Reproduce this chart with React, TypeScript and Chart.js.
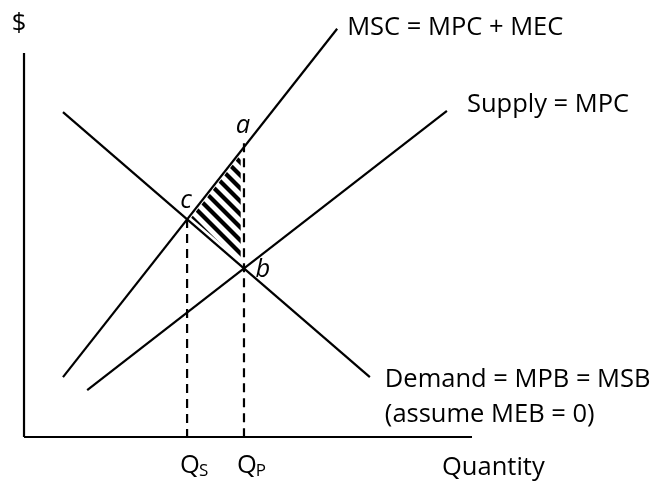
import React, { useEffect, useRef } from "react";
import { Chart, registerables } from "chart.js";

Chart.register(...registerables);

// ---- data (economic units) ----
const axisLabels = ["$", "Quantity"];
const axisXEnd = 10;
const axisYEnd = 10;

const curveLabels = ["MSC = MPC + MEC", "Supply = MPC", "Demand = MPB = MSB", "(assume MEB = 0)"];
const mscX = [0.87, 6.99];
const mscY = [1.56, 10.63];
const supplyX = [1.41, 9.44];
const supplyY = [1.22, 8.49];
const demandX = [0.87, 7.72];
const demandY = [8.46, 1.56];

const qNames = ["S", "P"]; // subscripts of Q
const qValues = [3.64, 4.91];
const qDashTops = [5.68, 7.65];

const pointNames = ["a", "b", "c"];
const pointX = [4.91, 4.91, 3.64];
const pointY = [7.55, 4.39, 5.68];

// hatched deadweight-loss area (upper and lower edges)
const hatchTopX = [3.73, 4.84];
const hatchTopY = [5.71, 7.36];
const hatchBottomX = [3.73, 4.84];
const hatchBottomY = [5.71, 4.59];

// visible range of the plane
const X_MIN = -0.536;
const X_MAX = 14.04;
const Y_MIN = -1.198;
const Y_MAX = 11.38;

const pts = (xs: number[], ys: number[]) => xs.map((v, i) => ({ x: v, y: ys[i] }));

function makePattern(): CanvasPattern | string {
  const s = 13;
  const c = document.createElement("canvas");
  c.width = s;
  c.height = s;
  const g = c.getContext("2d");
  if (!g) return "#000";
  g.strokeStyle = "#000";
  g.lineWidth = 4.2;
  for (let k = -1; k <= 1; k++) {
    g.beginPath();
    g.moveTo(-2, k * s - 2);
    g.lineTo(s + 2, s + k * s + 2);
    g.stroke();
  }
  const p = g.createPattern(c, "repeat");
  return p || "#000";
}

const FONT = '"Open Sans", "Noto Sans", sans-serif';
const SIZE = 25.5;

const labelPlugin = {
  id: "econLabels",
  afterDatasetsDraw(chart: any) {
    const { ctx } = chart;
    const sx = chart.scales.x;
    const sy = chart.scales.y;
    const px = (v: number) => sx.getPixelForValue(v);
    const py = (v: number) => sy.getPixelForValue(v);
    ctx.save();
    ctx.fillStyle = "#000";
    ctx.textBaseline = "alphabetic";
    ctx.font = `${SIZE}px ${FONT}`;

    // axis titles
    ctx.textAlign = "center";
    ctx.fillText(axisLabels[0], px(0) - 5, py(axisYEnd) - 22);
    ctx.textAlign = "left";
    ctx.fillText(axisLabels[1], px(axisXEnd) - 30, py(0) + 38);

    // curve labels
    ctx.fillText(curveLabels[0], px(mscX[1]) + 10, py(mscY[1]) + 6);
    ctx.fillText(curveLabels[1], px(supplyX[1]) + 20, py(supplyY[1]) + 1);
    ctx.fillText(curveLabels[2], px(demandX[1]) + 15, py(demandY[1]) + 10);
    ctx.fillText(curveLabels[3], px(demandX[1]) + 15, py(demandY[1]) + 45);

    // Q_S, Q_P
    qValues.forEach((q, i) => {
      const left = px(q) - 7;
      const base = py(0) + 36;
      ctx.font = `${SIZE}px ${FONT}`;
      ctx.fillText("Q", left, base);
      const w = ctx.measureText("Q").width;
      ctx.font = `17px ${FONT}`;
      ctx.fillText(qNames[i], left + w - 1, base + 3);
    });

    // point letters
    ctx.font = `italic ${SIZE}px ${FONT}`;
    ctx.textAlign = "center";
    const offs = [
      [-1, -14],
      [19, 9],
      [-1, -11],
    ];
    pointNames.forEach((n, i) => {
      ctx.fillText(n, px(pointX[i]) + offs[i][0], py(pointY[i]) + offs[i][1]);
    });
    ctx.restore();
  },
};

export default function App() {
  const ref = useRef<HTMLCanvasElement | null>(null);

  useEffect(() => {
    if (!ref.current) return;
    const pattern = makePattern();
    const line = (data: any[], extra: any = {}) => ({
      data,
      showLine: true,
      borderColor: "#000",
      borderWidth: 2.2,
      pointRadius: 0,
      fill: false,
      ...extra,
    });
    const chart = new Chart(ref.current, {
      type: "scatter",
      data: {
        datasets: [
          line(pts(hatchTopX, hatchTopY), {
            borderWidth: 0,
            borderColor: "rgba(0,0,0,0)",
            backgroundColor: pattern,
            fill: "+1",
          }),
          line(pts(hatchBottomX, hatchBottomY), { borderWidth: 0, borderColor: "rgba(0,0,0,0)" }),
          line(pts([0, 0], [0, axisYEnd])),
          line(pts([0, axisXEnd], [0, 0])),
          line(pts(mscX, mscY)),
          line(pts(supplyX, supplyY)),
          line(pts(demandX, demandY)),
          ...qValues.map((q, i) => line(pts([q, q], [qDashTops[i], 0]), { borderDash: [9, 6] })),
        ],
      },
      options: {
        animation: false,
        responsive: false,
        devicePixelRatio: 1,
        events: [],
        layout: { padding: 0 },
        plugins: { legend: { display: false }, tooltip: { enabled: false } },
        scales: {
          x: { type: "linear", min: X_MIN, max: X_MAX, display: false },
          y: { type: "linear", min: Y_MIN, max: Y_MAX, display: false },
        },
      },
      plugins: [labelPlugin],
    });
    return () => chart.destroy();
  }, []);

  return (
    <div style={{ position: "absolute", left: 0, top: 0, width: 653, height: 483, background: "#fff" }}>
      <canvas ref={ref} width={653} height={483} style={{ display: "block" }} />
    </div>
  );
}
